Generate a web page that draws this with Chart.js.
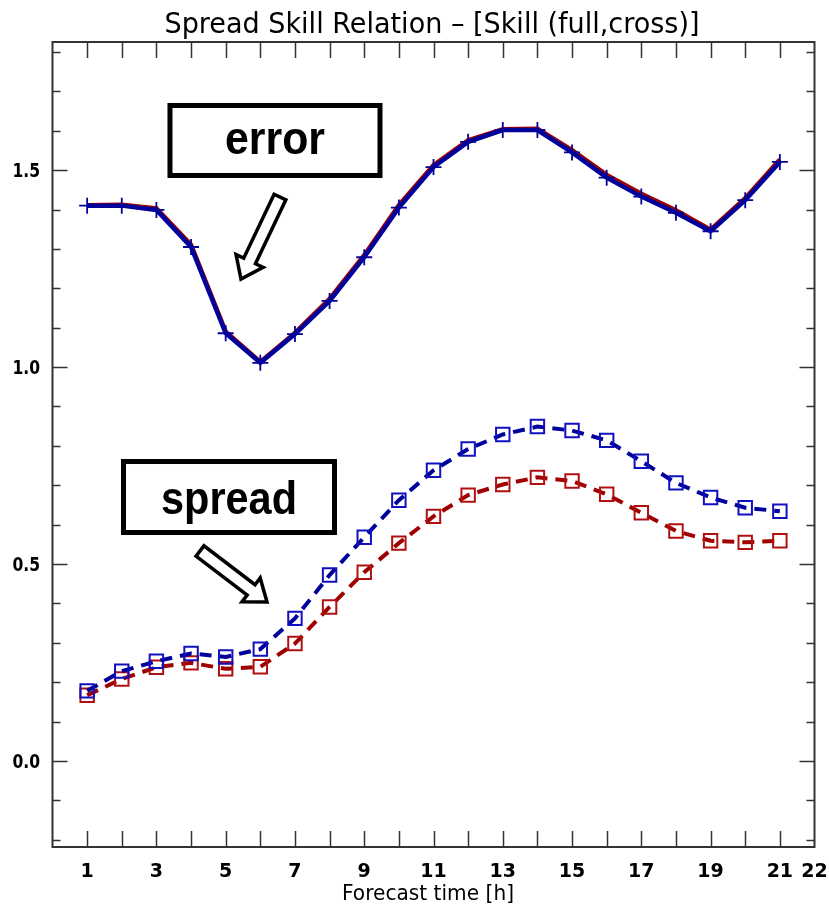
<!DOCTYPE html>
<html><head><meta charset="utf-8">
<script src="https://cdn.jsdelivr.net/npm/chart.js@4.4.0/dist/chart.umd.min.js"></script>
<style>html,body{margin:0;padding:0;background:#fff;}canvas{display:block;}</style>
</head><body>
<canvas id="c" width="829" height="912"></canvas>
<script>
// ---- data ----
const hours = [1,2,3,4,5,6,7,8,9,10,11,12,13,14,15,16,17,18,19,20,21];
const errorBlue  = [1.410,1.410,1.399,1.305,1.086,1.011,1.084,1.168,1.279,1.405,1.508,1.572,1.602,1.602,1.545,1.481,1.433,1.392,1.345,1.424,1.521];
const errorRed   = [1.411,1.412,1.403,1.311,1.090,1.013,1.087,1.173,1.284,1.411,1.513,1.576,1.604,1.605,1.551,1.488,1.440,1.398,1.349,1.429,1.527];
const spreadBlue = [0.178,0.228,0.253,0.273,0.264,0.284,0.362,0.472,0.568,0.662,0.738,0.792,0.829,0.849,0.839,0.814,0.761,0.706,0.669,0.643,0.634];
const spreadRed  = [0.167,0.208,0.238,0.249,0.234,0.239,0.298,0.391,0.479,0.553,0.621,0.675,0.702,0.720,0.711,0.677,0.630,0.584,0.559,0.555,0.559];
const xTickValues = [1,3,5,7,9,11,13,15,17,19,21,22];
const yTickValues = [0.0,0.5,1.0,1.5];
const titleText = 'Spread Skill Relation \u2013 [Skill (full,cross)]';
const xTitleText = 'Forecast time [h]';
const errorLabel = 'error';
const spreadLabel = 'spread';

const BLUE = '#00009b';
const RED = '#a00000';

const toXY = arr => hours.map((h, i) => ({x: h, y: arr[i]}));

// annotation geometry in data units
const annotations = [
  {text: errorLabel,  box: [3.392, 9.455, 1.6643, 1.4866], textPos: [6.424, 1.5403], textW: 100,
   arrow: {tail: [6.568, 1.4319], tip: [5.442, 1.2237]}},
  {text: spreadLabel, box: [2.050, 8.142, 0.7603, 0.5800], textPos: [5.096, 0.6283], textW: 136,
   arrow: {tail: [4.258, 0.5331], tip: [6.193, 0.4036]}}
];

function fitText(ctx, txt, font, x, baseline, targetW, capH, align, ref) {
  ctx.save();
  ctx.font = font;
  const w = ctx.measureText(txt).width;
  const cap = ctx.measureText(ref || 'H').actualBoundingBoxAscent || 1;
  ctx.translate(x, baseline);
  ctx.scale(targetW ? targetW / w : 1, capH / cap);
  ctx.textAlign = align || 'center';
  ctx.textBaseline = 'alphabetic';
  ctx.fillText(txt, 0, 0);
  ctx.restore();
}

function drawArrow(ctx, T, P) {
  const dx = P[0] - T[0], dy = P[1] - T[1];
  const L = Math.hypot(dx, dy);
  const ux = dx / L, uy = dy / L, nx = -uy, ny = ux;
  const sw = 6.5, hw = 15, hl = 20;
  const bx = P[0] - ux * hl, by = P[1] - uy * hl;
  const pts = [
    [T[0] + nx * sw, T[1] + ny * sw],
    [bx + nx * sw, by + ny * sw],
    [bx + nx * hw, by + ny * hw],
    [P[0], P[1]],
    [bx - nx * hw, by - ny * hw],
    [bx - nx * sw, by - ny * sw],
    [T[0] - nx * sw, T[1] - ny * sw]
  ];
  ctx.beginPath();
  pts.forEach((p, i) => i ? ctx.lineTo(p[0], p[1]) : ctx.moveTo(p[0], p[1]));
  ctx.closePath();
  ctx.fillStyle = '#fff';
  ctx.fill();
  ctx.lineWidth = 3.5;
  ctx.lineJoin = 'miter';
  ctx.strokeStyle = '#000';
  ctx.stroke();
}

const decor = {
  id: 'decor',
  beforeDatasetsDraw(chart) {
    const {ctx, chartArea: a, scales: {x, y}} = chart;
    ctx.save();
    ctx.strokeStyle = '#333';
    ctx.lineWidth = 2;
    ctx.strokeRect(a.left, a.top, a.right - a.left, a.bottom - a.top);
    ctx.beginPath();
    for (let v = 1; v <= 21; v++) {
      const px = Math.round(x.getPixelForValue(v)) + 0.5;
      ctx.moveTo(px, a.bottom); ctx.lineTo(px, a.bottom - 16);
      ctx.moveTo(px, a.top); ctx.lineTo(px, a.top + 16);
    }
    for (let k = -2; k <= 18; k++) {
      const v = k / 10;
      const len = (k % 5 === 0) ? 15 : 8;
      const py = Math.round(y.getPixelForValue(v)) + 0.5;
      ctx.moveTo(a.left, py); ctx.lineTo(a.left + len, py);
      ctx.moveTo(a.right, py); ctx.lineTo(a.right - len, py);
    }
    ctx.lineWidth = 1.5;
    ctx.stroke();
    ctx.restore();
  },
  afterDraw(chart) {
    const {ctx, chartArea: a, scales: {x, y}} = chart;
    ctx.save();
    ctx.fillStyle = '#000';
    // title
    fitText(ctx, titleText, '29px "DejaVu Sans"', 432, 33, 535, 21, 'center');
    // x tick labels
    xTickValues.forEach(v => {
      fitText(ctx, String(v), 'bold 19px "DejaVu Sans"', x.getPixelForValue(v), 877, 0, 14, 'center');
    });
    // y tick labels
    yTickValues.forEach(v => {
      const py = y.getPixelForValue(v);
      ctx.save();
      ctx.font = 'bold 19px "DejaVu Sans"';
      ctx.translate(40, py + 7);
      ctx.scale(0.82, 14 / (ctx.measureText('H').actualBoundingBoxAscent || 14));
      ctx.textAlign = 'right';
      ctx.fillText(v.toFixed(1), 0, 0);
      ctx.restore();
    });
    // x axis title
    fitText(ctx, xTitleText, '22px "DejaVu Sans"', 428, 900, 172, 16, 'center');
    // annotations
    annotations.forEach(an => {
      const x1 = x.getPixelForValue(an.box[0]), x2 = x.getPixelForValue(an.box[1]);
      const y1 = y.getPixelForValue(an.box[2]), y2 = y.getPixelForValue(an.box[3]);
      ctx.fillStyle = '#fff';
      ctx.fillRect(x1, y1, x2 - x1, y2 - y1);
      ctx.lineWidth = 5;
      ctx.strokeStyle = '#000';
      ctx.strokeRect(x1, y1, x2 - x1, y2 - y1);
      ctx.fillStyle = '#000';
      fitText(ctx, an.text, 'bold 42px Arial, "Liberation Sans", Helvetica, sans-serif',
        x.getPixelForValue(an.textPos[0]), y.getPixelForValue(an.textPos[1]), an.textW, 25, 'center', 'x');
      drawArrow(ctx,
        [x.getPixelForValue(an.arrow.tail[0]), y.getPixelForValue(an.arrow.tail[1])],
        [x.getPixelForValue(an.arrow.tip[0]), y.getPixelForValue(an.arrow.tip[1])]);
    });
    ctx.restore();
  }
};

new Chart(document.getElementById('c'), {
  type: 'line',
  data: {
    datasets: [
      {label: 'error blue', data: toXY(errorBlue), borderColor: BLUE, borderWidth: 4.5,
       pointStyle: 'cross', pointRadius: 8, pointBorderWidth: 1.8, pointBorderColor: BLUE,
       pointBackgroundColor: BLUE, tension: 0, fill: false, order: 0},
      {label: 'error red', data: toXY(errorRed), borderColor: RED, borderWidth: 4.5,
       pointRadius: 0, tension: 0, fill: false, order: 1},
      {label: 'spread blue', data: toXY(spreadBlue), borderColor: BLUE, borderWidth: 4,
       borderDash: [12, 8], pointStyle: 'rect', pointRadius: 9.5, pointBorderWidth: 2,
       pointBorderColor: '#1010c0', pointBackgroundColor: 'rgba(0,0,0,0)', tension: 0, fill: false, order: 2},
      {label: 'spread red', data: toXY(spreadRed), borderColor: RED, borderWidth: 4,
       borderDash: [12, 8], pointStyle: 'rect', pointRadius: 9.5, pointBorderWidth: 2,
       pointBorderColor: '#b01010', pointBackgroundColor: 'rgba(0,0,0,0)', tension: 0, fill: false, order: 3}
    ]
  },
  options: {
    responsive: false,
    animation: false,
    devicePixelRatio: 1,
    layout: {padding: {top: 42, right: 14.5, bottom: 0, left: 0}},
    plugins: {legend: {display: false}, tooltip: {enabled: false}, title: {display: false}},
    scales: {
      x: {type: 'linear', min: 0, max: 22, grid: {display: false}, border: {display: false},
          ticks: {display: false}, afterFit: s => { s.height = 65; }},
      y: {type: 'linear', min: -0.2185, max: 1.8255, grid: {display: false}, border: {display: false},
          ticks: {display: false}, afterFit: s => { s.width = 52.5; }}
    }
  },
  plugins: [decor]
});
</script>
</body></html>
